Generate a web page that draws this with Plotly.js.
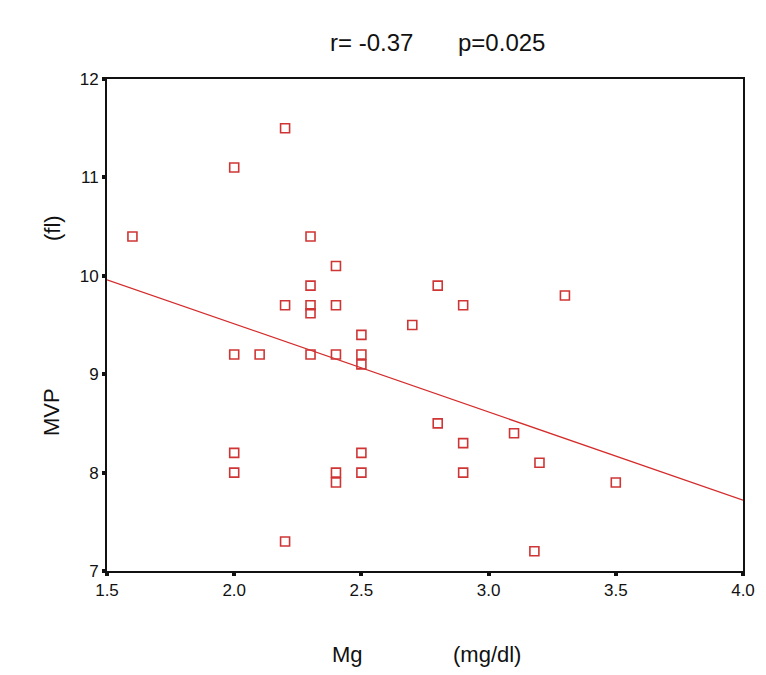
<!DOCTYPE html>
<html>
<head>
<meta charset="utf-8">
<script src="https://cdn.plot.ly/plotly-3.0.1.min.js"></script>
<style>html,body{margin:0;padding:0;background:#fff;}#chart{width:766px;height:675px;}</style>
</head>
<body>
<div id="chart"></div>
<script>
const mgValues = [1.6, 2.0, 2.2, 2.3, 2.4, 2.3, 2.2, 2.3, 2.3, 2.4, 2.8, 2.9, 3.3, 2.7, 2.5, 2.0, 2.1, 2.3, 2.4, 2.5, 2.5, 2.8, 2.9, 3.1, 3.2, 2.9, 3.5, 3.18, 2.0, 2.0, 2.4, 2.4, 2.5, 2.5, 2.2];
const mvpValues = [10.4, 11.1, 11.5, 10.4, 10.1, 9.9, 9.7, 9.7, 9.62, 9.7, 9.9, 9.7, 9.8, 9.5, 9.4, 9.2, 9.2, 9.2, 9.2, 9.2, 9.1, 8.5, 8.3, 8.4, 8.1, 8.0, 7.9, 7.2, 8.2, 8.0, 8.0, 7.9, 8.2, 8.0, 7.3];
const fitX = [1.5, 4.0];
const fitY = [9.96, 7.72];
const xTicks = [1.5, 2.0, 2.5, 3.0, 3.5, 4.0];
const xTickLabels = ['1.5', '2.0', '2.5', '3.0', '3.5', '4.0'];
const yTicks = [7, 8, 9, 10, 11, 12];

const red = '#d42b2b';
const font = 'Arial, "Liberation Sans", sans-serif';

const data = [
  {x: fitX, y: fitY, type: 'scatter', mode: 'lines', line: {color: red, width: 1.3}, hoverinfo: 'skip'},
  {x: mgValues, y: mvpValues, type: 'scatter', mode: 'markers',
   marker: {symbol: 'square-open', size: 9, color: '#d03535', line: {width: 1.6, color: '#d03535'}}}
];

const layout = {
  width: 766, height: 675,
  margin: {l: 107, r: 23, t: 79, b: 104},
  paper_bgcolor: '#fff', plot_bgcolor: '#fff',
  showlegend: false,
  font: {family: font, color: '#111', size: 17},
  xaxis: {range: [1.5, 4.0], tickvals: xTicks, ticktext: xTickLabels, showgrid: false, zeroline: false,
          showline: true, linecolor: '#111', linewidth: 2, mirror: true,
          ticks: 'outside', ticklen: 3, tickwidth: 4, tickcolor: '#111',
          tickfont: {size: 17, family: font, color: '#111'}},
  yaxis: {range: [7, 12], tickvals: yTicks, showgrid: false, zeroline: false,
          showline: true, linecolor: '#111', linewidth: 2, mirror: true,
          ticks: 'outside', ticklen: 3, tickwidth: 4, tickcolor: '#111',
          tickfont: {size: 17, family: font, color: '#111'}},
  annotations: [
    {text: 'r= -0.37', xref: 'paper', yref: 'paper', x: (371-107)/636, y: 1 + (79-42)/492, xanchor: 'center', yanchor: 'middle', showarrow: false, font: {size: 24, family: font, color: '#111'}},
    {text: 'p=0.025', xref: 'paper', yref: 'paper', x: (501-107)/636, y: 1 + (79-42)/492, xanchor: 'center', yanchor: 'middle', showarrow: false, font: {size: 24, family: font, color: '#111'}},
    {text: 'Mg', xref: 'paper', yref: 'paper', x: (347-107)/636, y: -(654-571)/492, xanchor: 'center', yanchor: 'middle', showarrow: false, font: {size: 22, family: font, color: '#111'}},
    {text: '(mg/dl)', xref: 'paper', yref: 'paper', x: (487-107)/636, y: -(654-571)/492, xanchor: 'center', yanchor: 'middle', showarrow: false, font: {size: 22, family: font, color: '#111'}},
    {text: 'MVP', xref: 'paper', yref: 'paper', x: -(107-52)/636, y: (571-412)/492, xanchor: 'center', yanchor: 'middle', textangle: -90, showarrow: false, font: {size: 22, family: font, color: '#111'}},
    {text: '(fl)', xref: 'paper', yref: 'paper', x: -(107-52)/636, y: (571-228)/492, xanchor: 'center', yanchor: 'middle', textangle: -90, showarrow: false, font: {size: 22, family: font, color: '#111'}}
  ]
};

Plotly.newPlot('chart', data, layout, {displayModeBar: false, staticPlot: true});
</script>
</body>
</html>
